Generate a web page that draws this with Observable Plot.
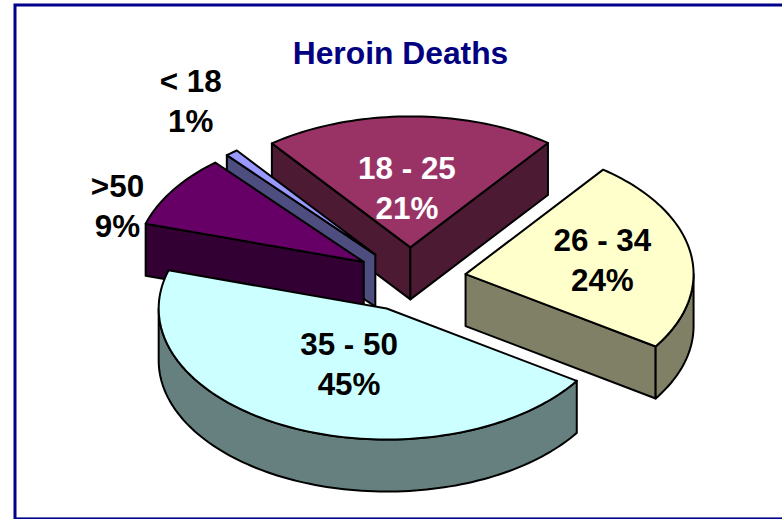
<!DOCTYPE html>
<html>
<head>
<meta charset="utf-8">
<script src="https://cdn.jsdelivr.net/npm/d3@7"></script>
<script src="https://cdn.jsdelivr.net/npm/@observablehq/plot@0.6"></script>
<style>
html,body{margin:0;padding:0;background:#fff;overflow:hidden}
svg{display:block}
</style>
</head>
<body>
<div id="chart"></div>
<script>
const title = "Heroin Deaths";
const categories = ["18 - 25", "26 - 34", "35 - 50", ">50", "< 18"];
const shares = [20.7, 24, 45.4, 9, 0.9];
const topColors = ["#993366", "#ffffcc", "#ccffff", "#660066", "#9999ff"];
const sideColors = ["#4d1a33", "#808066", "#668080", "#330033", "#4d4d80"];
const labelColors = ["#ffffff", "#000000", "#000000", "#000000", "#000000"];
// Label placement relative to each slice's apex, in pie radii
const labelOffsetX = [-0.015, 0.6, -0.165, -1.08, -0.81];
const labelOffsetY = [0.47, 0.122, -0.407, 0.443, 1.184];
const paintOrder = [0, 4, 3, 1, 2];

// Pie geometry
const width = 782, height = 519;
const radiusX = 228, radiusY = 131, centerX = 410, centerY = 279;
const startAngle = -37.4, explode = 0.245, thickness = 0.397;
const rad = d => d * Math.PI / 180;

let acc = startAngle;
const slices = categories.map((name, i) => {
  const a0 = acc, a1 = acc + shares[i] * 3.6;
  acc = a1;
  const mid = rad((a0 + a1) / 2);
  return {name, i, a0, a1, ox: explode * Math.sin(mid), oy: explode * Math.cos(mid)};
});

const rim = (s, a, drop = 0) => ({x: s.ox + Math.sin(rad(a)), y: s.oy + Math.cos(rad(a)) - drop});
const apex = (s, drop = 0) => ({x: s.ox, y: s.oy - drop});
const arc = (s, a0, a1, drop = 0) => {
  const n = Math.max(2, Math.ceil(Math.abs(a1 - a0) / 1.5));
  return d3.range(n + 1).map(k => rim(s, a0 + (a1 - a0) * k / n, drop));
};
const closed = pts => [...pts, pts[0]];

const face = (pts, fill) => Plot.line(closed(pts), {
  x: "x", y: "y", fill, stroke: "#000", strokeWidth: 2,
  strokeLinejoin: "round", curve: "linear"
});

const marks = [
  Plot.frame({stroke: "#00008b", strokeWidth: 3, insetLeft: 14.5, insetTop: 4.5, insetBottom: 0.6, insetRight: -10})
];

for (const i of paintOrder) {
  const s = slices[i], side = sideColors[i];
  // radial walls: only those that face the viewer
  if (Math.sin(rad(s.a0)) < 0)
    marks.push(face([apex(s), rim(s, s.a0), rim(s, s.a0, thickness), apex(s, thickness)], side));
  if (Math.sin(rad(s.a1)) > 0)
    marks.push(face([apex(s), rim(s, s.a1), rim(s, s.a1, thickness), apex(s, thickness)], side));
  // visible front part of the outer wall
  const normA0 = ((s.a0 % 360) + 360) % 360, normA1 = normA0 + (s.a1 - s.a0);
  const w0 = Math.max(normA0, 90), w1 = Math.min(normA1, 270);
  if (w1 > w0) marks.push(face([...arc(s, w0, w1), ...arc(s, w1, w0, thickness)], side));
  // top surface
  marks.push(face([apex(s), ...arc(s, s.a0, s.a1)], topColors[i]));
}

slices.forEach((s, i) => {
  marks.push(Plot.text([`${s.name}\n${Math.round(shares[i])}%`], {
    x: s.ox + labelOffsetX[i], y: s.oy + labelOffsetY[i], text: d => d,
    fill: labelColors[i], fontSize: 31.4, fontWeight: "bold", lineHeight: 1.27,
    fontFamily: "Liberation Sans, Arial, sans-serif"
  }));
});

marks.push(Plot.text([title], {
  frameAnchor: "top", dy: 41, dx: 9, text: d => d,
  fill: "#000080", fontSize: 31.8, fontWeight: "bold",
  fontFamily: "Liberation Sans, Arial, sans-serif"
}));

const chart = Plot.plot({
  width, height,
  margin: 0,
  x: {domain: [-centerX / radiusX, (width - centerX) / radiusX], range: [0, width], axis: null},
  y: {domain: [(centerY - height) / radiusY, centerY / radiusY], range: [height, 0], axis: null},
  style: {background: "#fff"},
  marks
});
document.getElementById("chart").append(chart);
</script>
</body>
</html>
